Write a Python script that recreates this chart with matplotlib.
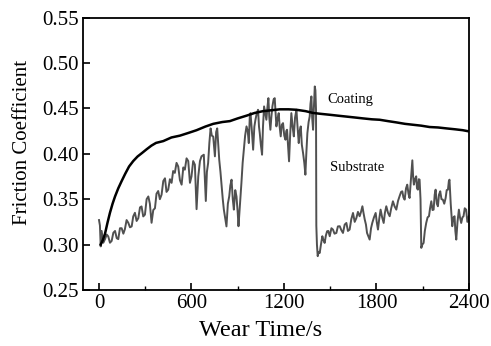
import matplotlib.pyplot as plt
from matplotlib.ticker import MultipleLocator

# Coating curve
coat_t = [11, 25, 39, 55, 71, 88, 104, 125, 147, 170, 195, 222, 250, 280, 309, 340,
          370, 417, 470, 525, 580, 633, 690, 741, 800, 849, 900, 957, 1010, 1065,
          1120, 1173, 1230, 1281, 1340, 1389, 1440, 1497, 1550, 1605, 1660, 1713,
          1770, 1821, 1875, 1929, 1985, 2037, 2090, 2145, 2200, 2253, 2310, 2360, 2400]
coat_mu = [0.300, 0.305, 0.312, 0.324, 0.335, 0.345, 0.353, 0.362, 0.370, 0.378,
           0.386, 0.392, 0.397, 0.401, 0.405, 0.409, 0.412, 0.414, 0.418, 0.420,
           0.423, 0.426, 0.430, 0.433, 0.435, 0.436, 0.439, 0.442, 0.445, 0.447,
           0.448, 0.449, 0.449, 0.4485, 0.447, 0.445, 0.444, 0.443, 0.442, 0.441,
           0.440, 0.439, 0.438, 0.4375, 0.436, 0.4346, 0.433, 0.432, 0.431, 0.4295,
           0.429, 0.428, 0.427, 0.426, 0.4247]

# Substrate curve
sub_t = [0, 6, 11, 17, 28, 39, 50, 60, 71, 82, 93, 104, 115, 125, 136, 147, 158, 168,
         179, 190, 201, 212, 222, 233, 244, 255, 266, 276, 287, 298, 309, 320, 330,
         341, 352, 363, 373, 384, 395, 406, 417, 428, 438, 449, 460, 471, 481, 492,
         503, 514, 525, 536, 547, 557, 568, 579, 590, 600, 611, 622, 633, 644, 655,
         665, 680, 693, 700, 708, 716, 724, 732, 741, 752, 760, 767, 774, 780, 788,
         795, 803, 810, 818, 827, 836, 845, 852, 860, 868, 875, 884, 892, 900, 905,
         915, 924, 932, 940, 948, 957, 965, 972, 978, 983, 992, 1000, 1008, 1015,
         1024, 1032, 1038, 1043, 1050, 1058, 1064, 1071, 1078, 1086, 1092, 1099,
         1105, 1112, 1118, 1125, 1133, 1140, 1146, 1151, 1158, 1166, 1172, 1179,
         1186, 1194, 1202, 1210, 1215, 1220, 1226, 1233, 1240, 1248, 1256, 1264,
         1272, 1281, 1288, 1296, 1302, 1309, 1316, 1324, 1332, 1339, 1345, 1352,
         1360, 1367, 1372, 1378, 1383, 1389, 1394, 1400, 1404, 1408, 1410, 1414,
         1419, 1425, 1432, 1440, 1449, 1456, 1464, 1472, 1480, 1488, 1497, 1508,
         1518, 1528, 1540, 1550, 1562, 1572, 1583, 1594, 1605, 1615, 1626, 1637,
         1648, 1659, 1670, 1680, 1691, 1700, 1709, 1716, 1724, 1732, 1739, 1748,
         1756, 1765, 1773, 1784, 1795, 1802, 1810, 1818, 1827, 1837, 1847, 1855,
         1864, 1875, 1886, 1896, 1907, 1918, 1929, 1940, 1950, 1960, 1968, 1975,
         1983, 1992, 2000, 2008, 2015, 2025, 2033, 2038, 2043, 2050, 2058, 2063,
         2069, 2075, 2080, 2086, 2091, 2098, 2106, 2114, 2123, 2132, 2141, 2148,
         2156, 2164, 2171, 2178, 2184, 2192, 2199, 2206, 2214, 2222, 2231, 2240,
         2249, 2256, 2264, 2270, 2274, 2282, 2292, 2300, 2307, 2312, 2318, 2326,
         2335, 2342, 2350, 2358, 2365, 2373, 2382, 2390, 2400]
sub_mu = [0.327, 0.321, 0.298, 0.315, 0.302, 0.306, 0.311, 0.309, 0.302, 0.304,
          0.313, 0.315, 0.307, 0.306, 0.318, 0.318, 0.312, 0.317, 0.327, 0.324,
          0.319, 0.320, 0.331, 0.335, 0.326, 0.329, 0.341, 0.342, 0.331, 0.333,
          0.350, 0.353, 0.345, 0.324, 0.338, 0.340, 0.356, 0.359, 0.350, 0.355,
          0.370, 0.373, 0.358, 0.3605, 0.372, 0.368, 0.381, 0.379, 0.390, 0.386,
          0.371, 0.366, 0.385, 0.3825, 0.395, 0.392, 0.368, 0.375, 0.392, 0.388,
          0.339, 0.375, 0.392, 0.3972, 0.399, 0.348, 0.380, 0.3898, 0.412, 0.428,
          0.420, 0.419, 0.3972, 0.424, 0.428, 0.410, 0.3935, 0.380, 0.366, 0.350,
          0.3385, 0.330, 0.320, 0.345, 0.3532, 0.365, 0.3715, 0.350, 0.3385, 0.360,
          0.353, 0.335, 0.3202, 0.345, 0.3678, 0.390, 0.4045, 0.420, 0.4302, 0.425,
          0.4118, 0.440, 0.4448, 0.425, 0.4045, 0.430, 0.4375, 0.445, 0.4485, 0.430,
          0.4228, 0.410, 0.399, 0.430, 0.4522, 0.445, 0.4375, 0.450, 0.4613, 0.440,
          0.4265, 0.440, 0.4522, 0.460, 0.4613, 0.445, 0.4302, 0.438, 0.4448, 0.430,
          0.4192, 0.432, 0.4338, 0.420, 0.4155, 0.425, 0.4265, 0.410, 0.3917, 0.420,
          0.4448, 0.430, 0.4192, 0.440, 0.4485, 0.430, 0.4118, 0.425, 0.4302, 0.410,
          0.4008, 0.390, 0.377, 0.400, 0.4228, 0.435, 0.4412, 0.455, 0.4632, 0.440,
          0.4265, 0.450, 0.4742, 0.470, 0.4485, 0.321, 0.300, 0.2872, 0.292, 0.2908,
          0.300, 0.3092, 0.305, 0.3018, 0.310, 0.3147, 0.315, 0.3092, 0.318, 0.3165,
          0.312, 0.3128, 0.320, 0.3202, 0.316, 0.3128, 0.322, 0.3238, 0.315, 0.3165,
          0.328, 0.3348, 0.325, 0.3293, 0.336, 0.3312, 0.336, 0.3422, 0.335, 0.3277,
          0.322, 0.3128, 0.309, 0.3055, 0.318, 0.3238, 0.330, 0.3348, 0.325, 0.3165,
          0.328, 0.3385, 0.330, 0.3238, 0.335, 0.3422, 0.335, 0.3312, 0.340, 0.3477,
          0.342, 0.3385, 0.348, 0.3532, 0.358, 0.3587, 0.352, 0.3495, 0.362, 0.366,
          0.356, 0.3513, 0.375, 0.3928, 0.375, 0.366, 0.372, 0.3752, 0.362, 0.3605,
          0.372, 0.3715, 0.350, 0.2963, 0.300, 0.3018, 0.315, 0.3238, 0.330, 0.3312,
          0.340, 0.3477, 0.338, 0.3385, 0.355, 0.3605, 0.345, 0.3422, 0.355, 0.3587,
          0.350, 0.3495, 0.345, 0.3513, 0.360, 0.3605, 0.370, 0.3715, 0.345, 0.3202,
          0.330, 0.3312, 0.315, 0.3055, 0.325, 0.3385, 0.330, 0.3238, 0.330, 0.3312,
          0.340, 0.3385, 0.325, 0.3312]

plt.rcParams['font.family'] = ['Liberation Serif', 'DejaVu Serif']

fig = plt.figure(figsize=(4.91, 3.46), dpi=100)
ax = fig.add_axes([0.169, 0.162, 0.786, 0.787])

ax.plot(sub_t, sub_mu, color='#505050', lw=1.4)
ax.plot(coat_t, coat_mu, color='black', lw=1.8)

ax.text(1480, 0.460, 'Coating', fontsize=10.5, va='center')
ax.text(1500, 0.385, 'Substrate', fontsize=10.5, va='center')

ax.set_xlim(-104, 2400)
ax.set_ylim(0.25, 0.55)
ax.xaxis.set_major_locator(MultipleLocator(600))
ax.xaxis.set_minor_locator(MultipleLocator(300))
ax.yaxis.set_major_locator(MultipleLocator(0.05))
ax.yaxis.set_major_formatter(plt.FormatStrFormatter('%.2f'))
ax.tick_params(which='both', direction='in', top=False, right=False, labelsize=15, pad=3)
ax.tick_params(which='major', length=5, width=1.2)
ax.tick_params(which='minor', length=3, width=1.0)
for s in ax.spines.values():
    s.set_linewidth(1.3)

ax.set_xlabel('Wear Time/s', fontsize=17.5, labelpad=5)
ax.xaxis.label.set_x(0.46)
ax.set_ylabel('Friction Coefficient', fontsize=15, labelpad=7)
ax.yaxis.label.set_y(0.54)

fig.savefig('out.png', dpi=100)
